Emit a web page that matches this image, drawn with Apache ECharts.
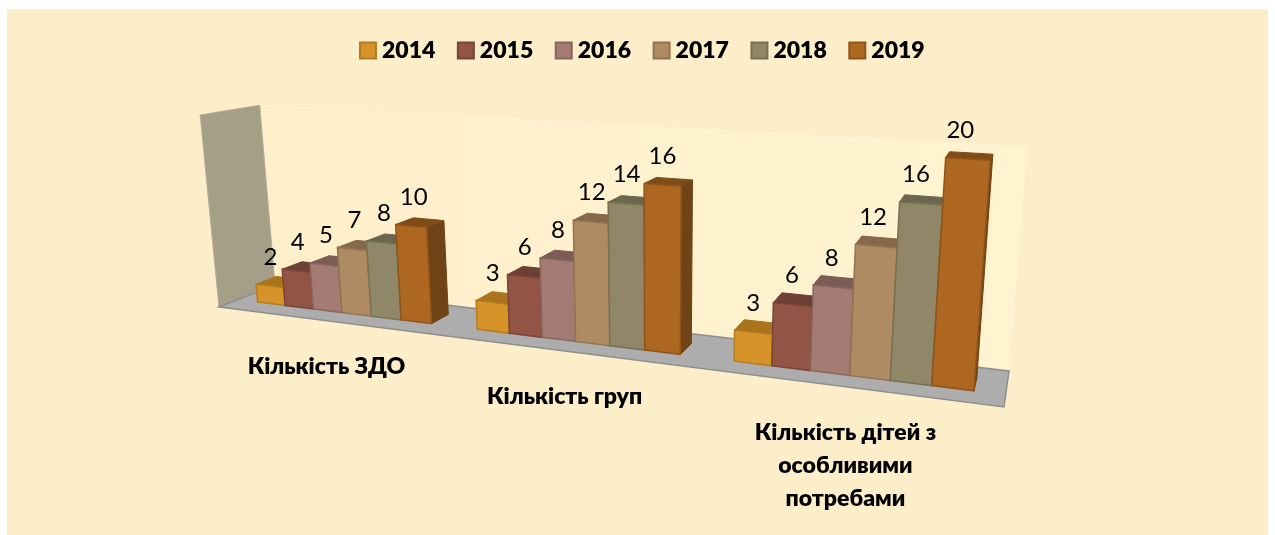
<!DOCTYPE html>
<html><head><meta charset="utf-8">
<style>html,body{margin:0;padding:0;background:#fff}#c{width:1275px;height:535px}</style>
<script src="https://cdn.jsdelivr.net/npm/echarts@6/dist/echarts.min.js"></script>
</head><body><div id="c"></div>
<script>
// ---- data ----
const categories = ['Кількість ЗДО', 'Кількість груп', 'Кількість дітей з\nособливими\nпотребами'];
const years = ['2014', '2015', '2016', '2017', '2018', '2019'];
const values2014 = [2, 3, 3];
const values2015 = [4, 6, 6];
const values2016 = [5, 8, 8];
const values2017 = [7, 12, 12];
const values2018 = [8, 14, 16];
const values2019 = [10, 16, 20];
const allValues = [values2014, values2015, values2016, values2017, values2018, values2019];

// ---- styling ----
const front = ['#D69329', '#925545', '#A37B73', '#AF8B63', '#8F8768', '#AD6721'];
const edge  = ['#B47B20', '#7A4537', '#8A655E', '#937350', '#767054', '#8F5418'];
const topC  = ['#A9741C', '#6E3F34', '#7C5C56', '#86694A', '#6C664E', '#7F4C18'];
const sideC = ['#8F6216', '#5E362C', '#6A4E49', '#72593F', '#5C5742', '#6F4315'];
const FONT = 'Lato, Carlito, "Open Sans", sans-serif';

// ---- camera: floor quad + vertical vanishing point ----
const Q = [[219, 307], [1004, 407], [1009, 371], [275, 285]];
const VP = [660, 4800];
const WALL_TOP_BACK_RIGHT_Y = 147;
const Y_MAX = 20.35, X_MAX = 3;
const D0 = 0.32, D1 = 0.685;      // bar depth range on the floor
const GROUP_MARGIN = 0.098, BAR_W = 0.134; // within one category

const H = (function () {
  const [x0, y0] = Q[0], [x1, y1] = Q[1], [x2, y2] = Q[2], [x3, y3] = Q[3];
  const dx1 = x1 - x2, dx2 = x3 - x2, sx = x0 - x1 + x2 - x3;
  const dy1 = y1 - y2, dy2 = y3 - y2, sy = y0 - y1 + y2 - y3;
  const den = dx1 * dy2 - dx2 * dy1;
  const g = (sx * dy2 - dx2 * sy) / den, h = (dx1 * sy - sx * dy1) / den;
  return { a: x1 - x0 + g * x1, b: x3 - x0 + h * x3, c: x0,
           d: y1 - y0 + g * y1, e: y3 - y0 + h * y3, f: y0, g, h };
})();
const wBR = H.g + H.h + 1;
const S = wBR * (WALL_TOP_BACK_RIGHT_Y - Q[2][1]) / (VP[1] - WALL_TOP_BACK_RIGHT_Y);

// pixel position on the hidden flat grid + depth -> picture position
function project(flat, cs, depth) {
  const u = (flat[0] - cs.x) / cs.width;
  const t = S * (cs.y + cs.height - flat[1]) / cs.height;
  const w = H.g * u + H.h * depth + 1 + t;
  return [(H.a * u + H.b * depth + H.c + t * VP[0]) / w,
          (H.d * u + H.e * depth + H.f + t * VP[1]) / w];
}
function poly(points, fill, stroke, lw) {
  return { type: 'polygon', shape: { points }, silent: true,
           style: { fill, stroke: stroke || fill, lineWidth: lw == null ? 1 : lw } };
}

function barRenderer(si) {
  return function (params, api) {
    const cs = params.coordSys;
    const cat = api.value(0), v = api.value(1);
    const xl = cat + GROUP_MARGIN + si * BAR_W, xr = xl + BAR_W;
    const b0 = api.coord([xl, 0]), b1 = api.coord([xr, 0]);
    const t0 = api.coord([xl, v]), t1 = api.coord([xr, v]);
    const fbl = project(b0, cs, D0), fbr = project(b1, cs, D0);
    const ftl = project(t0, cs, D0), ftr = project(t1, cs, D0);
    const bbr = project(b1, cs, D1), btr = project(t1, cs, D1), btl = project(t0, cs, D1);
    const cMidBase = project(api.coord([(xl + xr) / 2, 0]), cs, D0);
    const cMidTop = project(api.coord([(xl + xr) / 2, v]), cs, D0);
    return { type: 'group', children: [
      poly([fbr, ftr, btr, bbr], sideC[si]),
      poly([ftl, ftr, btr, btl], topC[si]),
      poly([fbl, fbr, ftr, ftl], front[si], edge[si], 1.5),
      { type: 'text', silent: true, style: {
          text: String(v), x: (cMidBase[0] + cMidTop[0]) / 2, y: cMidTop[1] - 29,
          align: 'center', verticalAlign: 'middle',
          font: '24px ' + FONT, fill: '#000' } }
    ] };
  };
}

function sceneRenderer(params, api) {
  const cs = params.coordSys;
  const p = (x, y, d) => project(api.coord([x, y]), cs, d);
  return { type: 'group', children: [
    poly([p(0, Y_MAX, 1), p(X_MAX, Y_MAX, 1), p(X_MAX, 0, 1), p(0, 0, 1)],
      { type: 'linear', x: 0, y: 0, x2: 1, y2: 0, colorStops: [
        { offset: 0, color: '#FEEFCB' }, { offset: 1, color: '#FFF3D0' }] }, 'rgba(255,245,215,0.6)', 1),
    poly([p(0, Y_MAX, 0), p(0, Y_MAX, 1), p(0, 0, 1), p(0, 0, 0)], '#A69F88', '#B4AD97', 1),
    poly([p(0, 0, 0), p(X_MAX, 0, 0), p(X_MAX, 0, 1), p(0, 0, 1)], '#ADADAD', '#8E8E8E', 1.5)
  ] };
}

function categoryRenderer(params, api) {
  const p = project(api.coord([api.value(0), 0]), params.coordSys, 0);
  return { type: 'text', silent: true, style: {
    text: categories[params.dataIndex], x: p[0] + 1.5, y: p[1] + 29.5,
    align: 'center', verticalAlign: 'top', lineHeight: 33,
    font: '800 23px ' + FONT, fill: '#000' } };
}

const chart = echarts.init(document.getElementById('c'), null, { renderer: 'canvas' });
chart.setOption({
  animation: false,
  backgroundColor: '#fff',
  graphic: [{ type: 'rect', shape: { x: 7, y: 9, width: 1261, height: 526 }, z: -10, silent: true,
              style: { fill: '#FDEECA' } }],
  grid: { left: 100, right: 100, top: 60, bottom: 60, show: false },
  xAxis: { type: 'value', min: 0, max: X_MAX, show: false },
  yAxis: { type: 'value', min: 0, max: Y_MAX, show: false },
  legend: {
    left: 354, top: 34, itemWidth: 16, itemHeight: 16, itemGap: 21.5, icon: 'rect',
    selectedMode: false,
    textStyle: { fontFamily: FONT, fontWeight: 800, fontSize: 23, color: '#000', padding: [0, 0, 0, 1] },
    data: years.map((y, i) => ({ name: y, icon: 'rect',
      itemStyle: { color: front[i], borderColor: edge[i], borderWidth: 2 } }))
  },
  series: [
    { type: 'custom', name: 'scene', z: 1, data: [[0, 0]], renderItem: sceneRenderer, encode: { x: 0, y: 1 }, silent: true },
    ...years.map((y, i) => ({
      type: 'custom', name: y, z: 2 + i, itemStyle: { color: front[i] },
      data: allValues[i].map((v, c) => [c, v]), renderItem: barRenderer(i), encode: { x: 0, y: 1 }, silent: true
    })),
    { type: 'custom', name: 'categories', z: 10, data: categories.map((c, i) => [i + 0.5, 0]),
      renderItem: categoryRenderer, encode: { x: 0, y: 1 }, silent: true }
  ]
});
</script></body></html>
